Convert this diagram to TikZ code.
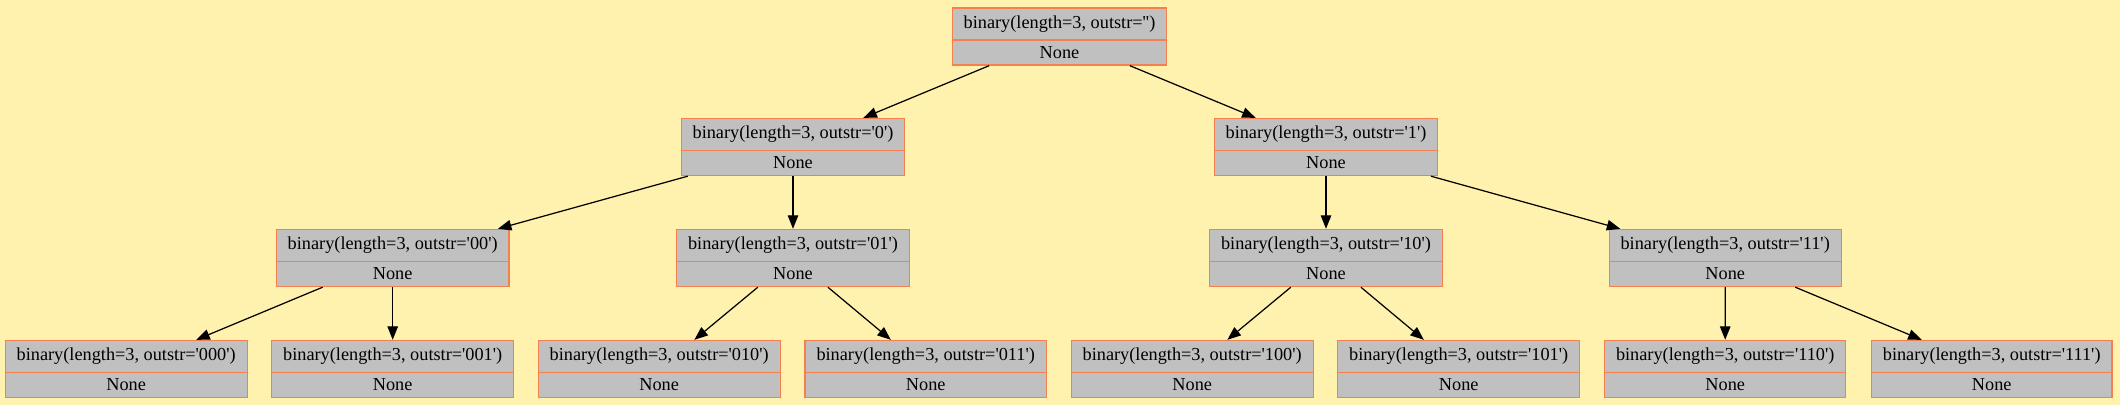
\documentclass[tikz,border=0pt]{standalone}
\usepackage{fontspec}
\setmainfont{Liberation Serif}
\usetikzlibrary{shapes.multipart,arrows.meta}
\definecolor{bgyellow}{HTML}{FFF2AF}
\definecolor{boxcoral}{HTML}{F5804F}
\definecolor{boxgray}{HTML}{C0C0C0}
\tikzset{
  call/.style={rectangle split, rectangle split parts=2, draw=boxcoral, fill=boxgray,
    line width=0.7pt, inner xsep=6.5pt, inner ysep=3.3pt, text height=8pt, text depth=3pt,
    font=\fontsize{10.4}{12}\selectfont},
  tree/.style={-{Triangle[length=0.27cm,width=0.21cm]}, line width=0.7pt}
}
\newcommand{\q}{\textquotesingle}
\newcommand{\bincall}[1]{binary(length=3, outstr=\q#1\q)\nodepart{second}None}
\begin{document}
\begin{tikzpicture}
    \useasboundingbox (0, 0) rectangle (42.4, 8.1);
    \fill[bgyellow] (0, 0) rectangle (42.4, 8.1); % фон
    \node[call] (top) at (21.19, 7.37) {\bincall{}};
    \node[call] (b0) at (15.86, 5.16) {\bincall{0}};
    \node[call] (b1) at (26.52, 5.16) {\bincall{1}};
    \node[call] (b00) at (7.854, 2.94) {\bincall{00}};
    \node[call] (b01) at (15.86, 2.94) {\bincall{01}};
    \node[call] (b10) at (26.52, 2.94) {\bincall{10}};
    \node[call] (b11) at (34.504, 2.94) {\bincall{11}};
    \foreach \s [count=\i from 0] in {000, 001, 010, 011, 100, 101, 110, 111} {
        \node[call] (b\s) at (2.524 + 5.33*\i, 0.72) {\bincall{\s}};
    }
    \foreach \p/\c in {top/b0, top/b1, b0/b00, b0/b01, b1/b10, b1/b11,
        b00/b000, b00/b001, b01/b010, b01/b011, b10/b100, b10/b101, b11/b110, b11/b111} {
        \draw[tree] (\p) -- (\c);
    }
\end{tikzpicture}
\end{document}
